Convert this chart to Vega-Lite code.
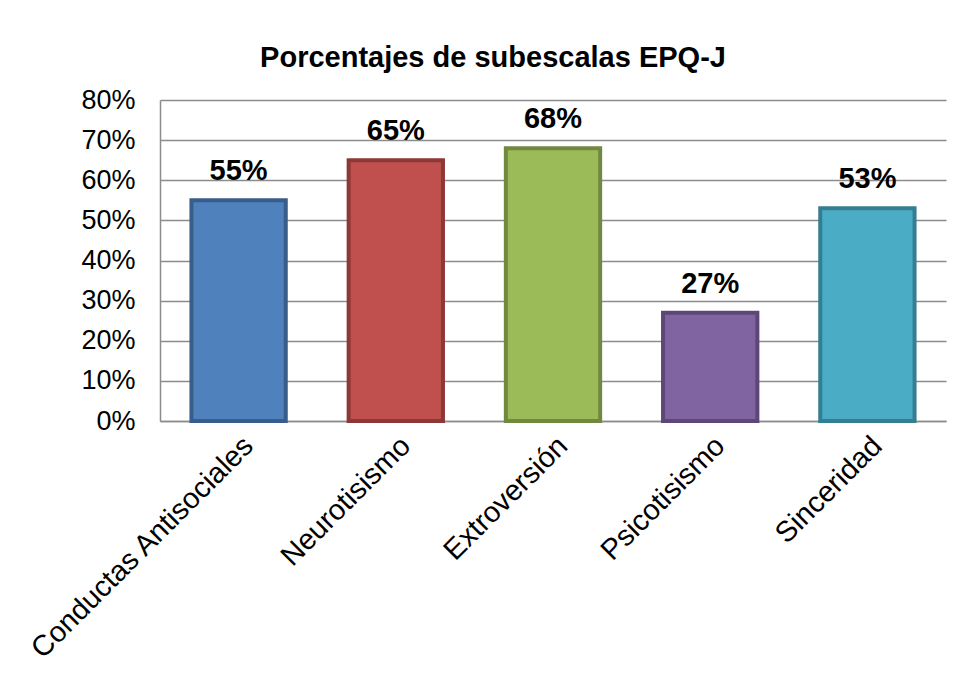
{
  "$schema": "https://vega.github.io/schema/vega-lite/v6.json",
  "autosize": "none",
  "width": 786,
  "height": 321,
  "padding": {"left": 160, "top": 100, "right": 15, "bottom": 266},
  "background": "white",
  "title": {
    "text": "Porcentajes  de subescalas EPQ-J",
    "font": "Liberation Sans",
    "fontSize": 29,
    "fontWeight": "bold",
    "color": "black",
    "anchor": "middle",
    "frame": "group",
    "dx": -60,
    "offset": 13
  },
  "data": {
    "values": [
      {"cat": "Conductas Antisociales", "v": 0.55, "fill": "#4F81BD", "line": "#385D8A"},
      {"cat": "Neurotisismo", "v": 0.65, "fill": "#C0504D", "line": "#8C3836"},
      {"cat": "Extroversión", "v": 0.68, "fill": "#9BBB59", "line": "#71893F"},
      {"cat": "Psicotisismo", "v": 0.27, "fill": "#8064A2", "line": "#5C4776"},
      {"cat": "Sinceridad", "v": 0.53, "fill": "#4BACC6", "line": "#357D91"}
    ]
  },
  "encoding": {
    "x": {
      "field": "cat", "type": "nominal", "sort": null,
      "scale": {"paddingInner": 0.4, "paddingOuter": 0.2},
      "axis": {
        "title": null, "labelAngle": -45, "labelFont": "Liberation Sans", "labelFontSize": 29,
        "labelColor": "black", "ticks": false, "domain": true, "domainColor": "#8c8c8c", "domainWidth": 1.5,
        "labelPadding": 10, "labelLimit": 500
      }
    },
    "y": {
      "field": "v", "type": "quantitative",
      "scale": {"domain": [0, 0.8]},
      "axis": {
        "title": null, "format": ".0%", "values": [0,0.1,0.2,0.3,0.4,0.5,0.6,0.7,0.8],
        "labelFont": "Liberation Sans", "labelFontSize": 27, "labelColor": "black",
        "ticks": false, "labelPadding": 25, "domainColor": "#8c8c8c", "domainWidth": 1.5,
        "gridColor": "#8c8c8c", "gridWidth": 1.5
      }
    }
  },
  "layer": [
    {
      "mark": {"type": "bar", "strokeWidth": 4},
      "encoding": {
        "fill": {"field": "fill", "type": "nominal", "scale": null},
        "stroke": {"field": "line", "type": "nominal", "scale": null}
      }
    },
    {
      "mark": {"type": "text", "font": "Liberation Sans", "fontSize": 29, "fontWeight": "bold", "dy": -14, "baseline": "bottom", "color": "black"},
      "encoding": {"text": {"field": "v", "type": "quantitative", "format": ".0%"}}
    }
  ],
  "config": {"view": {"stroke": null}}
}
